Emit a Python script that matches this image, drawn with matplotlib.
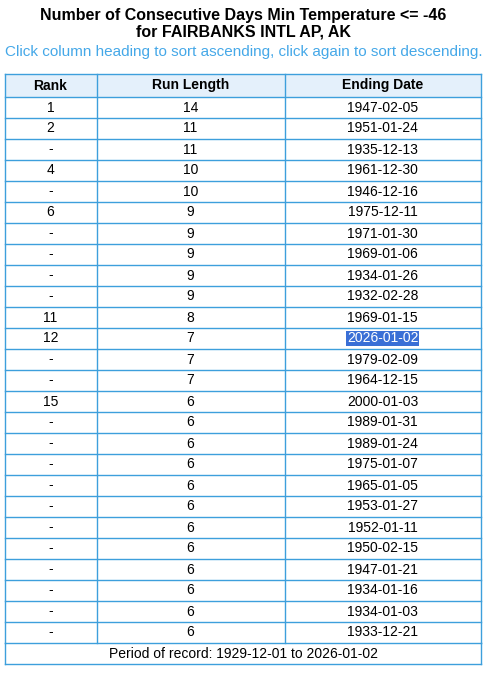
import matplotlib
matplotlib.use('Agg')
from matplotlib import pyplot as plt
from matplotlib.patches import Rectangle

plt.rcParams['font.family'] = ['Liberation Sans', 'DejaVu Sans']

title = 'Number of Consecutive Days Min Temperature <= -46\nfor FAIRBANKS INTL AP, AK'
subtitle = 'Click column heading to sort ascending, click again to sort descending.'
headers = ['Rank', 'Run Length', 'Ending Date']
ranks = ['1', '2', '-', '4', '-', '6', '-', '-', '-', '-', '11', '12', '-', '-', '15',
         '-', '-', '-', '-', '-', '-', '-', '-', '-', '-', '-']
run_lengths = [14, 11, 11, 10, 10, 9, 9, 9, 9, 9, 8, 7, 7, 7, 6,
               6, 6, 6, 6, 6, 6, 6, 6, 6, 6, 6]
ending_dates = ['1947-02-05', '1951-01-24', '1935-12-13', '1961-12-30', '1946-12-16',
                '1975-12-11', '1971-01-30', '1969-01-06', '1934-01-26', '1932-02-28',
                '1969-01-15', '2026-01-02', '1979-02-09', '1964-12-15', '2000-01-03',
                '1989-01-31', '1989-01-24', '1975-01-07', '1965-01-05', '1953-01-27',
                '1952-01-11', '1950-02-15', '1947-01-21', '1934-01-16', '1934-01-03',
                '1933-12-21']
highlight = '2026-01-02'
footer = 'Period of record: 1929-12-01 to 2026-01-02'

W, H = 487, 673
fig = plt.figure(figsize=(W / 100, H / 100), dpi=100)
ax = fig.add_axes([0, 0, 1, 1])
ax.set_xlim(0, W)
ax.set_ylim(H, 0)
ax.axis('off')

border = '#3d9fdc'
left, right = 4.5, 480.5
cols = [left, 96.5, 284.5, right]
top, row_h = 73.5, 21.0

ax.text(W / 2, 24, title, ha='center', va='center', fontsize=11.5,
        fontweight='bold', linespacing=1.15)
ax.text(W / 2, 52, subtitle, ha='center', va='center', fontsize=11, color='#45a8e8')

# header
ax.add_patch(Rectangle((left, top), right - left, 23, facecolor='#e4f0fb',
                       edgecolor='none'))
for i, h in enumerate(headers):
    ax.text((cols[i] + cols[i + 1]) / 2, top + 12, h, ha='center', va='center',
            fontsize=10, fontweight='bold')

y0 = top + 23
n = len(ranks)
for r in range(n):
    yc = y0 + r * row_h + row_h / 2 + 0.5
    vals = [ranks[r], str(run_lengths[r]), ending_dates[r]]
    for i, v in enumerate(vals):
        xc = (cols[i] + cols[i + 1]) / 2
        if i == 2 and v == highlight:
            ax.text(xc, yc, v, ha='center', va='center', fontsize=10, color='white',
                    bbox=dict(boxstyle='square,pad=0.05', facecolor='#3a6fd6',
                              edgecolor='none'))
        else:
            ax.text(xc, yc, v, ha='center', va='center', fontsize=10)

# grid lines
bottom_rows = y0 + n * row_h
for k in range(n + 1):
    y = y0 + k * row_h
    ax.plot([left, right], [y, y], color=border, lw=1)
ax.plot([left, right], [top, top], color=border, lw=1)
for x in cols:
    ax.plot([x, x], [top, bottom_rows], color=border, lw=1)

# footer row
fb = bottom_rows + 21
ax.plot([left, left], [bottom_rows, fb], color=border, lw=1)
ax.plot([right, right], [bottom_rows, fb], color=border, lw=1)
ax.plot([left, right], [fb, fb], color=border, lw=1)
ax.text(W / 2, bottom_rows + 11, footer, ha='center', va='center', fontsize=10)

fig.savefig('out.png', dpi=100)
